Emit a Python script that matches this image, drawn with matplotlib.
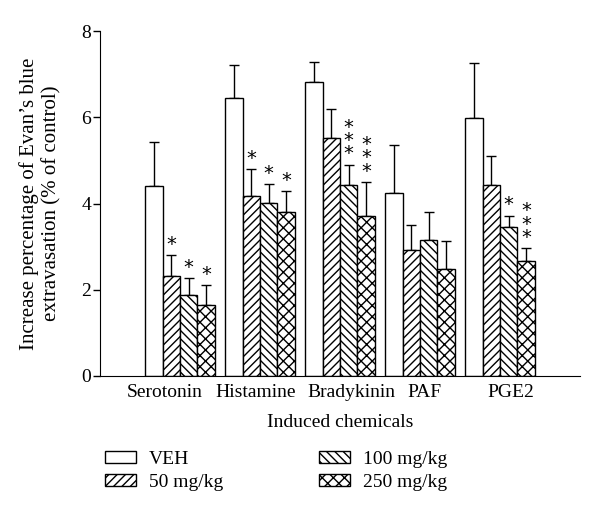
import matplotlib
matplotlib.use("Agg")
import matplotlib.pyplot as plt
from matplotlib.patches import Patch
import numpy as np

plt.rcParams['font.family'] = ['Liberation Serif', 'DejaVu Serif']
plt.rcParams['hatch.linewidth'] = 1.0

# data
chemicals = ['Serotonin', 'Histamine', 'Bradykinin', 'PAF', 'PGE2']
groups = ['VEH', '50 mg/kg', '100 mg/kg', '250 mg/kg']

veh = [4.41, 6.45, 6.81, 4.25, 5.98]
dose50 = [2.32, 4.18, 5.51, 2.93, 4.42]
dose100 = [1.87, 4.01, 4.42, 3.15, 3.46]
dose250 = [1.65, 3.80, 3.70, 2.48, 2.67]

veh_err = [1.01, 0.77, 0.47, 1.11, 1.28]
dose50_err = [0.48, 0.62, 0.67, 0.56, 0.68]
dose100_err = [0.40, 0.44, 0.48, 0.66, 0.26]
dose250_err = [0.45, 0.49, 0.80, 0.64, 0.29]

# significance marks per group
veh_sig = ['', '', '', '', '']
dose50_sig = ['*', '*', '', '', '']
dose100_sig = ['*', '*', '***', '', '*']
dose250_sig = ['*', '*', '***', '', '***']

values = [veh, dose50, dose100, dose250]
errors = [veh_err, dose50_err, dose100_err, dose250_err]
sigs = [veh_sig, dose50_sig, dose100_sig, dose250_sig]
hatches = ['', '////', '\\\\\\\\', 'xxx']

# label offsets (the labels in the original are not centred on the groups)
label_shift = [-0.19, -0.06, 0.14, 0.06, 0.14]

fig = plt.figure(figsize=(6, 5.11), dpi=100)
ax = fig.add_axes([0.1667, 0.2642, 0.8, 0.6751])

x = np.arange(len(chemicals))
w = 0.216
for j in range(4):
    pos = x - 1.5 * w + j * w
    ax.bar(pos, values[j], width=w, color='white', edgecolor='black',
           linewidth=1.0, hatch=hatches[j], label=groups[j], zorder=2)
    ax.errorbar(pos, values[j], yerr=[np.zeros(len(x)), errors[j]], fmt='none',
                ecolor='black', elinewidth=1.0, capsize=3.5, capthick=1.0, zorder=1)
    for i in range(len(x)):
        s = sigs[j][i]
        if s:
            top = values[j][i] + errors[j][i]
            ax.text(pos[i], top + 0.03, '\n'.join(s), ha='center', va='bottom',
                    fontsize=14, linespacing=0.62, family='DejaVu Sans')

ax.set_xlim(-1, 5)
ax.set_ylim(0, 8)
ax.set_yticks([0, 2, 4, 6, 8])
ax.set_xticks(x + np.array(label_shift))
ax.set_xticklabels(chemicals, fontsize=14)
ax.tick_params(axis='x', length=0, pad=6)
ax.tick_params(axis='y', labelsize=14, length=5, width=1, direction='out', pad=1.5)
ax.spines['top'].set_visible(False)
ax.spines['right'].set_visible(False)
ax.set_xlabel('Induced chemicals', fontsize=14, labelpad=9)
ax.set_ylabel('Increase percentage of Evan\u2019s blue\nextravasation (% of control)',
              fontsize=15, labelpad=14)

handles = [Patch(facecolor='white', edgecolor='black', hatch=h, linewidth=1.0) for h in hatches]
fig.legend(handles, groups, ncol=2, loc='upper left', bbox_to_anchor=(0.145, 0.152),
           frameon=False, fontsize=14, handlelength=1.6, handleheight=0.6,
           columnspacing=4.9, labelspacing=0.3, handletextpad=0.7)

fig.savefig('out.png', dpi=100)
